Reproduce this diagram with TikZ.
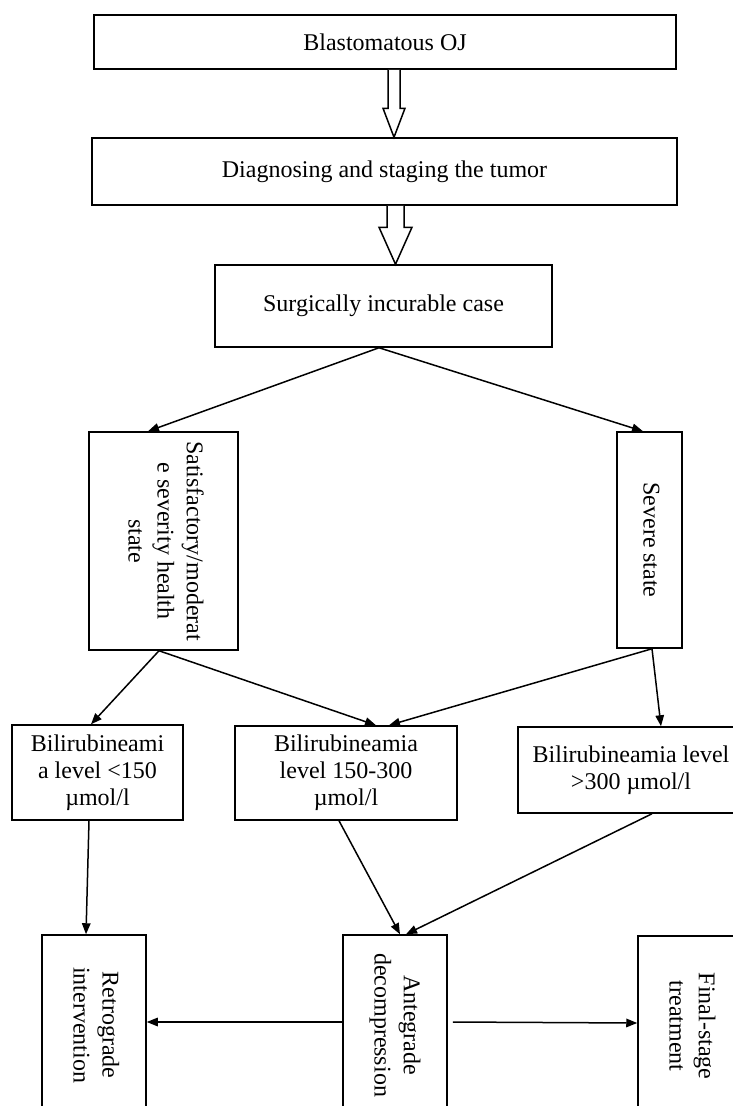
\documentclass[tikz,border=0pt]{standalone}
\usepackage{fontspec}
\setmainfont{Liberation Serif}
\usepackage{graphicx}
\usetikzlibrary{arrows.meta,calc}
\tikzset{
  font=\fontsize{24}{27}\selectfont,
  box/.style={
    draw,
    line width=1.5pt,
    align=center,
    inner sep=2pt
  },
  arrow/.style={-{Triangle[length=11pt,width=8.5pt]}, line width=1.5pt},
  hollow/.style={draw, line width=1.5pt, fill=white, line join=miter}
}
% vertical text, read top to bottom
\newcommand{\vtext}[1]{\rotatebox{-90}{\renewcommand{\arraystretch}{1.08}\begin{tabular}{@{}c@{}}#1\end{tabular}}}
% open block arrow: from, to, half shaft, half head, head length
\newcommand{\hollowarrow}[5]{%
  \draw[hollow] let \p1=(#1), \p2=(#2) in
    (\x1-#3,\y1) -- (\x1-#3,\y2+#5) -- (\x1-#4,\y2+#5) -- (\x1,\y2)
    -- (\x1+#4,\y2+#5) -- (\x1+#3,\y2+#5) -- (\x1+#3,\y1);}

\begin{document}
\begin{tikzpicture}[x=1pt,y=-1pt]
\useasboundingbox (0,0) rectangle (733,1106);
\clip (0,0) rectangle (733,1106);

% Top chain
\node[box, minimum width=582pt, minimum height=54pt] (oj) at (385,42) {Blastomatous OJ};
\node[box, minimum width=585pt, minimum height=67pt] (diag) at (384.5,171.5) {Diagnosing and staging the tumor};
\node[box, minimum width=337pt, minimum height=82pt] (incur) at (383.5,306) {Surgically incurable case};

% Health state
\node[box, minimum width=149pt, minimum height=218pt] (satis) at (163.5,541)
  {\vtext{Satisfactory/moderat\\e severity health\\state}};
\node[box, minimum width=65pt, minimum height=216pt] (severe) at (649.5,540)
  {\vtext{Severe state}};

% Bilirubin levels
\node[box, minimum width=171pt, minimum height=95pt] (low) at (97.5,772.5)
  {Bilirubineami\\a level <150\\µmol/l};
\node[box, minimum width=222pt, minimum height=94pt] (mid) at (346,773)
  {Bilirubineamia\\level 150-300\\µmol/l};
\node[box, minimum width=226pt, minimum height=86pt] (high) at (631,770)
  {Bilirubineamia level\\>300 µmol/l};

% Treatment
\node[box, minimum width=104pt, minimum height=180pt] (retro) at (94,1025)
  {\vtext{Retrograde\\intervention}};
\node[box, minimum width=104pt, minimum height=180pt] (ante) at (395,1025)
  {\vtext{Antegrade\\decompression}};
\node[box, minimum width=104pt, minimum height=180pt] (final) at (690,1026)
  {\vtext{Final-stage\\treatment}};

% Edges
\hollowarrow{[xshift=9pt]oj.south}{[xshift=9pt]diag.north}{6pt}{11pt}{29pt}
\hollowarrow{[xshift=11pt]diag.south}{[xshift=11pt]incur.north}{8.5pt}{16.5pt}{37pt}
\draw[arrow] ([xshift=-4.5pt]incur.south) -- ([xshift=-15.5pt]satis.north);
\draw[arrow] ([xshift=-4.5pt]incur.south) -- ([xshift=-6.5pt]severe.north);
\draw[arrow] ([xshift=-4.5pt]satis.south) -- ([xshift=-6.5pt]low.north);
\draw[arrow] ([xshift=-4.5pt]satis.south) -- ([xshift=30pt]mid.north);
\draw[arrow] ([xshift=2.5pt]severe.south) -- ([xshift=43pt]mid.north);
\draw[arrow] ([xshift=2.5pt]severe.south) -- ([xshift=30pt]high.north);
\draw[arrow] ([xshift=-8.5pt]low.south) -- ([xshift=-8pt]retro.north);
\draw[arrow] ([xshift=-7pt]mid.south) -- ([xshift=5pt]ante.north);
\draw[arrow] ([xshift=21pt]high.south) -- ([xshift=11pt]ante.north);
\draw[arrow] ([yshift=3pt]ante.west) -- ([yshift=3pt]retro.east);
\draw[arrow] ([xshift=5pt,yshift=3pt]ante.east) -- ([yshift=3pt]final.west);

\end{tikzpicture}
\end{document}
